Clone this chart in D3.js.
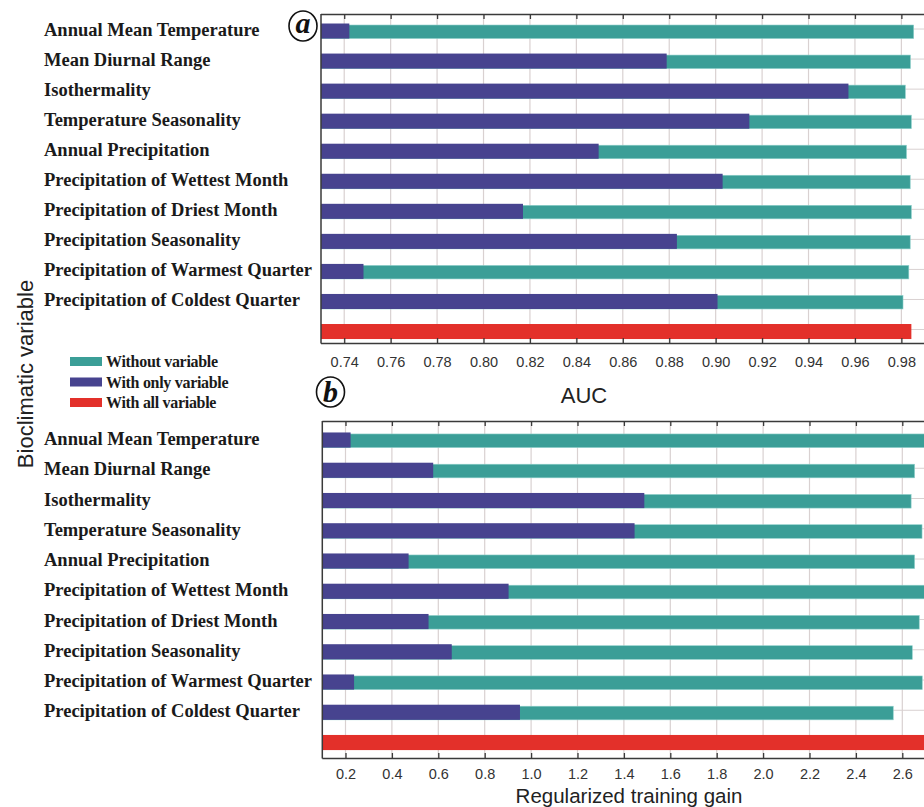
<!DOCTYPE html>
<html>
<head>
<meta charset="utf-8">
<script src="https://cdn.jsdelivr.net/npm/d3@7/dist/d3.min.js"></script>
<style>
  html, body { margin: 0; padding: 0; background: #fff; }
  svg { display: block; }
</style>
</head>
<body>
<svg id="chart" width="924" height="807"></svg>
<script>
// ---------- DATA ----------
const variables = [
  "Annual Mean Temperature",
  "Mean Diurnal Range",
  "Isothermality",
  "Temperature Seasonality",
  "Annual Precipitation",
  "Precipitation of Wettest Month",
  "Precipitation of Driest Month",
  "Precipitation Seasonality",
  "Precipitation of Warmest Quarter",
  "Precipitation of Coldest Quarter"
];
const allKey = "All variables";

const aucWithout = [0.9853, 0.9839, 0.9817, 0.9843, 0.9822, 0.9838, 0.9843, 0.9838, 0.9832, 0.9807];
const aucOnly    = [0.7422, 0.8789, 0.9572, 0.9145, 0.8496, 0.9030, 0.8170, 0.8833, 0.7483, 0.9008];
const aucAll     = 0.9843;

const gainWithout = [2.71, 2.653, 2.638, 2.685, 2.653, 2.70, 2.673, 2.643, 2.686, 2.561];
const gainOnly    = [0.222, 0.578, 1.488, 1.446, 0.472, 0.903, 0.558, 0.658, 0.237, 0.952];
const gainAll     = 2.75;

const aucTicks  = [0.74, 0.76, 0.78, 0.80, 0.82, 0.84, 0.86, 0.88, 0.90, 0.92, 0.94, 0.96, 0.98];
const gainTicks = [0.2, 0.4, 0.6, 0.8, 1.0, 1.2, 1.4, 1.6, 1.8, 2.0, 2.2, 2.4, 2.6];

const legendItems = ["Without variable", "With only variable", "With all variable"];

// ---------- STYLE ----------
const C_TEAL = "#3b9e97";
const C_PURPLE = "#47438f";
const C_RED = "#e3302a";
const C_GRID = "#d9d1d1";
const C_AXIS = "#3a3a3a";
const SERIF = "'Liberation Serif', 'Times New Roman', serif";
const SANS = "'Liberation Sans', Arial, sans-serif";

const svg = d3.select("#chart");
const cats = variables.concat([allKey]);

function drawPanel(cfg) {
  const g = svg.append("g");
  const x = d3.scaleLinear().domain(cfg.domain).range(cfg.xRange);
  const y = d3.scaleBand().domain(cats).range(cfg.yRange)
    .paddingInner(0.5).paddingOuter(0.25);
  const bw = y.bandwidth();
  const x0 = cfg.xRange[0];

  // vertical grid
  g.append("g").selectAll("line").data(cfg.ticks).join("line")
    .attr("x1", d => x(d)).attr("x2", d => x(d))
    .attr("y1", cfg.top).attr("y2", cfg.bottom)
    .attr("stroke", C_GRID).attr("stroke-width", 1.2);
  // horizontal grid
  g.append("g").selectAll("line").data(cats).join("line")
    .attr("x1", x0).attr("x2", 924)
    .attr("y1", d => y(d) + bw / 2 - 2).attr("y2", d => y(d) + bw / 2 - 2)
    .attr("stroke", C_GRID).attr("stroke-width", 1);

  // without-variable bars
  g.append("g").selectAll("rect").data(variables).join("rect")
    .attr("x", x0)
    .attr("y", d => y(d) + 1.5)
    .attr("width", (d, i) => x(cfg.without[i]) - x0)
    .attr("height", bw - 1.5)
    .attr("fill", C_TEAL)
    .attr("stroke", "#8fd0cb").attr("stroke-width", 0.6);
  // only-variable bars
  g.append("g").selectAll("rect").data(variables).join("rect")
    .attr("x", x0)
    .attr("y", d => y(d))
    .attr("width", (d, i) => x(cfg.only[i]) - x0)
    .attr("height", bw)
    .attr("fill", C_PURPLE);
  // all-variable bar
  g.append("rect")
    .attr("x", x0).attr("y", y(allKey))
    .attr("width", x(cfg.all) - x0).attr("height", bw)
    .attr("fill", C_RED);

  // frame: top with inward ticks, left, bottom with inward ticks
  const topAxis = d3.axisTop(x).tickValues(cfg.ticks).tickSize(-5).tickFormat("");
  const ta = g.append("g").attr("transform", `translate(0,${cfg.top})`).call(topAxis);
  ta.select(".domain").attr("d", `M${x0},0.5H924`);
  ta.selectAll("path, line").attr("stroke", C_AXIS).attr("stroke-width", 1.3);

  const botAxis = d3.axisBottom(x).tickValues(cfg.ticks).tickSize(-5).tickPadding(cfg.pad)
    .tickFormat(cfg.fmt);
  const ba = g.append("g").attr("transform", `translate(0,${cfg.bottom})`).call(botAxis);
  ba.select(".domain").attr("d", `M${x0},0.5H924`);
  ba.selectAll("path, line").attr("stroke", C_AXIS).attr("stroke-width", 1.3);
  ba.selectAll("text").attr("font-family", SANS).attr("font-size", 14.5)
    .attr("fill", "#333").attr("dy", "0.3em");

  g.append("line").attr("x1", x0).attr("x2", x0)
    .attr("y1", cfg.top).attr("y2", cfg.bottom + 0.5)
    .attr("stroke", C_AXIS).attr("stroke-width", 1.5);

  // category labels
  g.append("g").selectAll("text").data(variables).join("text")
    .attr("x", 44)
    .attr("y", d => y(d) + bw / 2 + 5)
    .attr("font-family", SERIF).attr("font-weight", "bold")
    .attr("font-size", 18.5).attr("fill", "#1a1a1a")
    .text(d => d);

  // panel letter
  g.append("ellipse").attr("cx", cfg.letterPos[0]).attr("cy", cfg.letterPos[1])
    .attr("rx", 14).attr("ry", 15)
    .attr("fill", "#fff").attr("stroke", "#111").attr("stroke-width", 1.6);
  g.append("text").attr("x", cfg.letterPos[0]).attr("y", cfg.letterPos[1] + cfg.letterDy)
    .attr("text-anchor", "middle")
    .attr("font-family", SERIF).attr("font-style", "italic").attr("font-weight", "bold")
    .attr("font-size", 30).attr("fill", "#111")
    .text(cfg.letter);
}

drawPanel({
  domain: [0.73, 0.99], xRange: [321, 924.6],
  yRange: [16, 346.55], top: 14, bottom: 343, pad: 20,
  ticks: aucTicks, fmt: d3.format(".2f"),
  without: aucWithout, only: aucOnly, all: aucAll,
  letter: "a", letterPos: [303, 26], letterDy: 7
});

drawPanel({
  domain: [0.1, 2.7], xRange: [322.3, 925.5],
  yRange: [424.9, 757.65], top: 421, bottom: 758, pad: 17,
  ticks: gainTicks, fmt: d3.format(".1f"),
  without: gainWithout, only: gainOnly, all: gainAll,
  letter: "b", letterPos: [330.5, 392], letterDy: 10
});

// axis titles
svg.append("text").attr("x", 584).attr("y", 403).attr("text-anchor", "middle")
  .attr("font-family", SANS).attr("font-size", 22).attr("fill", "#222").text("AUC");
svg.append("text").attr("x", 629).attr("y", 803).attr("text-anchor", "middle")
  .attr("font-family", SANS).attr("font-size", 20.5).attr("fill", "#222").text("Regularized training gain");
svg.append("text").attr("transform", "translate(33,374) rotate(-90)").attr("text-anchor", "middle")
  .attr("font-family", SANS).attr("font-size", 22).attr("fill", "#222").text("Bioclimatic variable");

// legend
const legColors = [C_TEAL, C_PURPLE, C_RED];
const leg = svg.append("g");
const legY = d3.scalePoint().domain(legendItems).range([357, 398]);
leg.selectAll("rect").data(legendItems).join("rect")
  .attr("x", 70).attr("y", d => legY(d)).attr("width", 32).attr("height", 9)
  .attr("fill", (d, i) => legColors[i]);
leg.selectAll("text").data(legendItems).join("text")
  .attr("x", 106).attr("y", d => legY(d) + 10)
  .attr("font-family", SERIF).attr("font-weight", "bold").attr("font-size", 16)
  .attr("letter-spacing", -0.3).attr("fill", "#1a1a1a")
  .text(d => d);
</script>
</body>
</html>
